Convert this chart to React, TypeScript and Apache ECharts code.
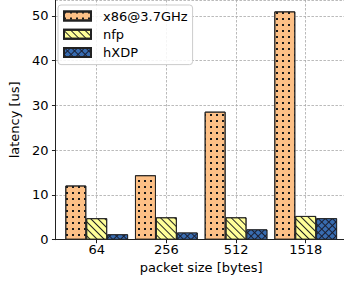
import React, { useEffect, useRef } from "react";
import * as echarts from "echarts";

const categories = ["64", "256", "512", "1518"];
const seriesNames = ["x86@3.7GHz", "nfp", "hXDP"];
const x86Values = [12.1, 14.4, 28.6, 51.0];
const nfpValues = [4.8, 5.0, 5.0, 5.3];
const hxdpValues = [1.2, 1.6, 2.3, 4.8];
const yMin = 0;
const yMax = 53.55;
const yInterval = 10;

const FONT = "DejaVu Sans";

export default function App() {
  const ref = useRef<HTMLDivElement>(null);
  useEffect(() => {
    if (!ref.current) return;
    const chart = echarts.init(ref.current, undefined, { renderer: "svg" });
    const edge = { borderColor: "#222", borderWidth: 0.9 };
    const dash = { color: "#a8a8a8", width: 0.8, type: [2.5, 1.5] as any };
    chart.setOption({
      animation: false,
      backgroundColor: "#fff",
      textStyle: { fontFamily: FONT },
      grid: [
        { left: 50.5, right: -7.9, top: -1.3, bottom: 41.3, containLabel: false },
        { left: 96.7, right: 38.3, top: -1.3, bottom: 41.3, containLabel: false },
      ],
      legend: {
        orient: "vertical",
        left: 58,
        top: 5,
        padding: [4, 5, 5, 5],
        itemWidth: 27,
        itemHeight: 9,
        itemGap: 4.3,
        backgroundColor: "rgba(255,255,255,0.85)",
        borderColor: "#cccccc",
        borderWidth: 1,
        borderRadius: 3,
        icon: "rect",
        textStyle: {
          fontFamily: FONT,
          fontSize: 13,
          color: "#000",
          lineHeight: 14,
          padding: [0, 0, 0, 7],
        },
        data: seriesNames,
      },
      xAxis: [
        {
          type: "value",
          gridIndex: 0,
          min: 0,
          max: 1,
          axisLine: { show: true, onZero: false, lineStyle: { color: "#222", width: 1 } },
          axisTick: { show: false },
          axisLabel: { show: false },
          splitLine: { show: false },
        },
        {
          type: "category",
          gridIndex: 1,
          data: categories,
          boundaryGap: false,
          axisLine: { show: false },
          axisTick: { show: true, length: 3.5, alignWithLabel: true, lineStyle: { color: "#222" } },
          axisLabel: { margin: 3, fontSize: 13, color: "#000", fontFamily: FONT, interval: 0 },
          splitLine: { show: true, lineStyle: dash },
          name: "packet size [bytes]",
          nameLocation: "middle",
          nameGap: 15,
          nameTextStyle: { fontSize: 13, color: "#000", fontFamily: FONT },
        },
      ],
      yAxis: [
        {
          type: "value",
          gridIndex: 0,
          min: yMin,
          max: yMax,
          interval: yInterval,
          axisLine: { show: true, lineStyle: { color: "#222", width: 1 } },
          axisTick: { show: true, length: 3.5, lineStyle: { color: "#222" } },
          axisLabel: { margin: 7, fontSize: 13, color: "#000", fontFamily: FONT, showMaxLabel: false },
          splitLine: { show: true, lineStyle: dash },
          name: "latency [us]",
          nameLocation: "middle",
          nameGap: 18,
          nameTextStyle: { fontSize: 13, color: "#000", fontFamily: FONT },
        },
        {
          type: "value",
          gridIndex: 1,
          min: yMin,
          max: yMax,
          show: false,
          splitLine: { show: false },
        },
      ],
      series: [
        {
          name: seriesNames[0],
          type: "bar",
          xAxisIndex: 1,
          yAxisIndex: 1,
          clip: false,
          barWidth: 20.9,
          barGap: "0%",
          data: x86Values,
          itemStyle: {
            color: "#fdc086",
            ...edge,
            decal: {
              symbol: "rect",
              symbolSize: 1,
              dashArrayX: [1.3, 3.1],
              dashArrayY: [1.3, 3.1],
              color: "#1a1a1a",
              rotation: 0,
            },
          },
        },
        {
          name: seriesNames[1],
          type: "bar",
          xAxisIndex: 1,
          yAxisIndex: 1,
          clip: false,
          barWidth: 20.9,
          barGap: "0%",
          data: nfpValues,
          itemStyle: {
            color: "#ffff99",
            ...edge,
            decal: {
              symbol: "rect",
              symbolSize: 1,
              dashArrayX: [1, 0],
              dashArrayY: [1, 4],
              color: "#222",
              rotation: Math.PI / 4,
            },
          },
        },
        {
          name: seriesNames[2],
          type: "bar",
          xAxisIndex: 1,
          yAxisIndex: 1,
          clip: false,
          barWidth: 20.9,
          barGap: "0%",
          data: hxdpValues,
          itemStyle: {
            color: "#1a1f33",
            ...edge,
            decal: {
              symbol: "rect",
              symbolSize: 1,
              dashArrayX: [4, 1],
              dashArrayY: [4, 1],
              color: "#386cb0",
              rotation: Math.PI / 4,
            },
          },
        },
      ],
    });
    return () => chart.dispose();
  }, []);
  return (
    <div
      ref={ref}
      style={{ position: "absolute", left: 0, top: 0, width: 344, height: 281 }}
    />
  );
}
